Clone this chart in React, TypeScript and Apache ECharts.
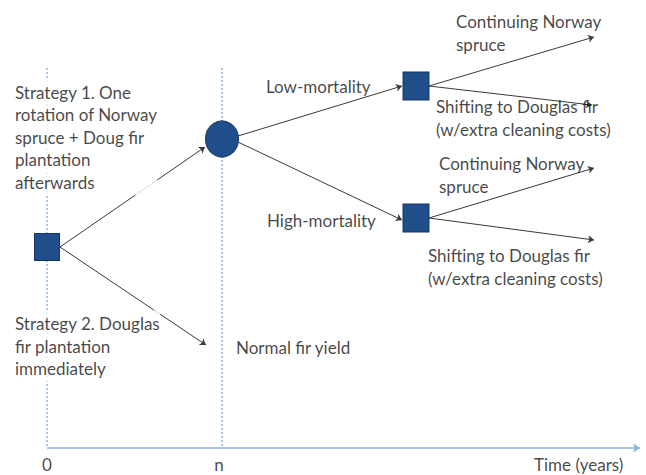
import React, { useEffect, useRef } from "react";
import * as echarts from "echarts";

// Diagram space: x = horizontal position (px), y = vertical position (px, top-down)
const timeMarks = [
  { label: "0", x: 47 },
  { label: "n", x: 219 },
];
const timeAxisLabel = "Time (years)";

const nodeNames = ["start", "chance", "lowDecision", "highDecision"];
const nodeShapes = ["rect", "circle", "rect", "rect"];
const nodeX = [47, 222, 416, 416];
const nodeY = [247, 139, 86, 218];
const nodeW = [25, 33, 26, 26];
const nodeH = [27, 36, 28, 28];

const guideX = [47, 222];

// arrows: [from, to]
const arrows: [number[], number[]][] = [
  [[60, 247], [205, 147]],
  [[60, 247], [206, 345]],
  [[238, 136], [402, 86]],
  [[238, 142], [402, 220]],
  [[429, 86], [594, 37]],
  [[429, 86], [592, 105]],
  [[429, 218], [594, 168]],
  [[429, 218], [594, 240]],
];

const textBlocks = [
  { text: "Strategy 1. One\nrotation of Norway\nspruce + Doug fir\nplantation\nafterwards", x: 15, y: 137, bg: true },
  { text: "Strategy 2. Douglas\nfir plantation\nimmediately", x: 15, y: 346, bg: true },
  { text: "Normal fir yield", x: 236, y: 347, bg: false },
  { text: "Low-mortality", x: 266, y: 86, bg: false },
  { text: "High-mortality", x: 267, y: 220, bg: false },
  { text: "Continuing Norway\nspruce", x: 456, y: 33, bg: false },
  { text: "Shifting to Douglas fir\n(w/extra cleaning costs)", x: 436, y: 118, bg: false },
  { text: "Continuing Norway\nspruce", x: 439, y: 175, bg: false },
  { text: "Shifting to Douglas fir\n(w/extra cleaning costs)", x: 428, y: 267, bg: false },
];

const W = 646;
const H = 475;
const axisY = 448;
const guideTop = 68;
const axisEndX = 640;
const timeLabelY = 464;

const FONT = "Lato, 'Open Sans', sans-serif";
const FS = 17;

export default function App() {
  const ref = useRef<HTMLDivElement>(null);
  useEffect(() => {
    if (!ref.current) return;
    const chart = echarts.init(ref.current, undefined, { renderer: "svg" });
    const guideColor = "#8db3e2";
    const option: any = {
      animation: false,
      backgroundColor: "#ffffff",
      grid: { left: 0, right: 0, top: 0, bottom: 0 },
      xAxis: { type: "value", min: 0, max: W, show: false },
      yAxis: { type: "value", min: 0, max: H, inverse: true, show: false },
      series: [
        {
          type: "lines",
          coordinateSystem: "cartesian2d",
          z: 1,
          silent: true,
          lineStyle: { color: guideColor, width: 1.5, type: [2, 2], opacity: 1 },
          data: guideX.map((x) => ({ coords: [[x, guideTop], [x, axisY]] })),
        },
        {
          type: "lines",
          coordinateSystem: "cartesian2d",
          z: 1,
          silent: true,
          symbol: ["none", "arrow"],
          symbolSize: 7,
          lineStyle: { color: guideColor, width: 1.5, opacity: 1 },
          data: [{ coords: [[guideX[0], axisY], [axisEndX, axisY]] }],
        },
        {
          type: "lines",
          coordinateSystem: "cartesian2d",
          z: 3,
          silent: true,
          symbol: ["none", "arrow"],
          symbolSize: 6,
          lineStyle: { color: "#3a3a3a", width: 1, opacity: 1 },
          data: arrows.map((a) => ({ coords: a })),
        },
        {
          type: "scatter",
          z: 5,
          silent: true,
          data: nodeNames.map((n, i) => ({
            name: n,
            value: [nodeX[i], nodeY[i]],
            symbol: nodeShapes[i],
            symbolSize: [nodeW[i], nodeH[i]],
          })),
          itemStyle: { color: "#1f4e8a", borderColor: "#13355f", borderWidth: 1, opacity: 1 },
        },
        {
          type: "scatter",
          z: 10,
          silent: true,
          symbolSize: 0,
          data: textBlocks.map((t) => ({
            value: [t.x, t.y],
            label: {
              show: true,
              position: "right",
              distance: 0,
              formatter: t.text,
              color: "#151515",
              fontFamily: FONT,
              fontSize: FS,
              lineHeight: 22.5,
              align: "left",
              backgroundColor: t.bg ? "#ffffff" : "transparent",
              padding: t.bg ? [2, 0, 2, 0] : 0,
            },
          })),
        },
        {
          type: "scatter",
          z: 10,
          silent: true,
          symbolSize: 0,
          data: [
            ...timeMarks.map((m) => ({
              value: [m.x, timeLabelY],
              label: {
                show: true,
                position: "right",
                distance: 0,
                align: "center",
                formatter: m.label,
                color: "#151515",
                fontFamily: FONT,
                fontSize: FS,
                lineHeight: 18,
              },
            })),
            {
              value: [534, timeLabelY],
              label: {
                show: true,
                position: "right",
                distance: 0,
                formatter: timeAxisLabel,
                color: "#151515",
                fontFamily: FONT,
                fontSize: FS,
                lineHeight: 18,
              },
            },
          ],
        },
      ],
    };
    chart.setOption(option);
    return () => chart.dispose();
  }, []);
  return (
    <div
      ref={ref}
      style={{ position: "fixed", left: 0, top: 0, width: W, height: H, background: "#fff" }}
    />
  );
}
